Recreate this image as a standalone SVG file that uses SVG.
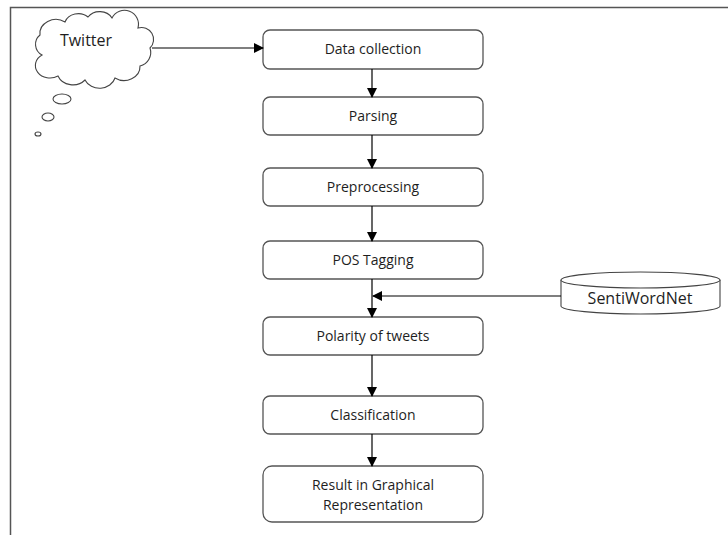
<svg xmlns="http://www.w3.org/2000/svg" width="728" height="535" viewBox="0 0 728 535">
<defs>
<marker id="ah" markerWidth="10" markerHeight="10" refX="9" refY="5" orient="auto" markerUnits="userSpaceOnUse">
<path d="M0,0 L10,5 L0,10 Z" fill="#000"/>
</marker>
<style>
.box{fill:#fff;stroke:#555;stroke-width:1.3}
.t{font-family:"Open Sans","Liberation Sans",sans-serif;font-size:14px;fill:#1e1e1e;text-anchor:middle}
.c{fill:none;stroke:#000;stroke-width:1.2;marker-end:url(#ah)}
.sh{fill:#fff;stroke:#444;stroke-width:1.1}
</style>
</defs>
<rect width="728" height="535" fill="#fff"/>
<path d="M10.5,535 V7.5 H728" fill="none" stroke="#555" stroke-width="1.5"/>
<g id="twitter">
<path class="sh" d="M42,55 A12,12 0 0 1 40,35 A16,14 0 0 1 65,22 A14,12 0 0 1 88,17 A14,12 0 0 1 112,18 A14,14 0 0 1 138,28 A12,12 0 0 1 150,48 A14,14 0 0 1 140,66 A16,14 0 0 1 115,78 A16,14 0 0 1 85,80 A16,14 0 0 1 58,76 A14,12 0 0 1 42,55 Z"/>
<ellipse class="sh" cx="62" cy="99" rx="9" ry="5"/>
<ellipse class="sh" cx="48" cy="117" rx="6" ry="4"/>
<ellipse class="sh" cx="38" cy="134" rx="3" ry="2"/>
<text class="t" x="86" y="46" style="font-size:16px">Twitter</text>
</g>
<g id="data-collection"><rect class="box" x="263" y="30" width="220" height="39" rx="7"/><text class="t" x="373" y="54">Data collection</text></g>
<g id="parsing"><rect class="box" x="263" y="97" width="220" height="38" rx="7"/><text class="t" x="373" y="121">Parsing</text></g>
<g id="preprocessing"><rect class="box" x="263" y="168" width="220" height="38" rx="7"/><text class="t" x="373" y="192">Preprocessing</text></g>
<g id="pos-tagging"><rect class="box" x="263" y="241" width="220" height="38" rx="7"/><text class="t" x="373" y="265">POS Tagging</text></g>
<g id="polarity"><rect class="box" x="263" y="317" width="220" height="38" rx="7"/><text class="t" x="373" y="341">Polarity of tweets</text></g>
<g id="classification"><rect class="box" x="263" y="396" width="220" height="38" rx="7"/><text class="t" x="373" y="420">Classification</text></g>
<g id="result"><rect class="box" x="263" y="466" width="220" height="56" rx="9"/><text class="t" x="373" y="490">Result in Graphical</text><text class="t" x="373" y="510">Representation</text></g>
<g id="sentiwordnet">
<path class="sh" d="M561,280 V306 A79.5,8 0 0 0 720,306 V280"/>
<ellipse class="sh" cx="640.5" cy="280" rx="79.5" ry="8"/>
<text class="t" x="640" y="304" style="font-size:16px">SentiWordNet</text>
</g>
<g id="connectors">
<path class="c" d="M152,48 H263"/>
<path class="c" d="M372,69 V97"/>
<path class="c" d="M372,135 V168"/>
<path class="c" d="M372,206 V241"/>
<path class="c" d="M372,279 V317"/>
<path class="c" d="M561,296 H373"/>
<path class="c" d="M372,355 V396"/>
<path class="c" d="M372,434 V466"/>
</g>
</svg>
